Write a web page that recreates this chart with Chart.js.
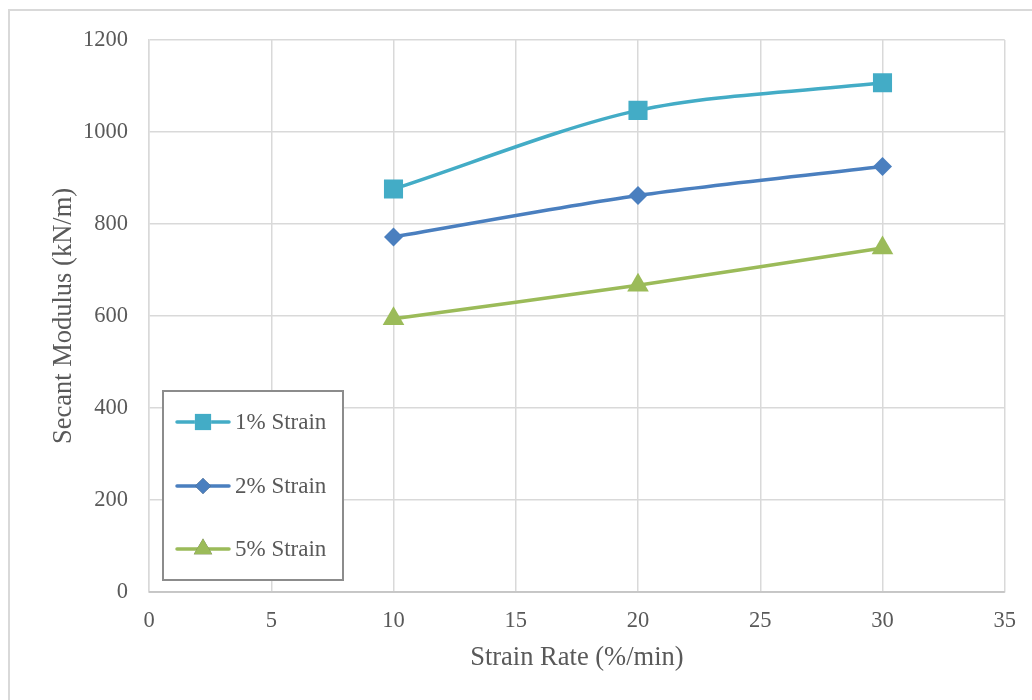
<!DOCTYPE html>
<html>
<head>
<meta charset="utf-8">
<script src="https://cdn.jsdelivr.net/npm/chart.js@4.4.1/dist/chart.umd.min.js"></script>
<style>
  html, body { margin: 0; padding: 0; background: #ffffff; }
  #wrap { width: 1032px; height: 700px; position: relative; }
</style>
</head>
<body>
<div id="wrap"><canvas id="chart" width="1032" height="700"></canvas></div>
<script>
// Strain rate (%/min) on the x axis
const strainRates = [10, 20, 30];
// Secant modulus (kN/m) at each strain level
const strain1 = [876, 1047, 1107];
const strain2 = [772, 862, 925];
const strain5 = [594, 667, 748];
const seriesNames = ['1% Strain', '2% Strain', '5% Strain'];
const xTicks = [0, 5, 10, 15, 20, 25, 30, 35];
const yTicks = [0, 200, 400, 600, 800, 1000, 1200];

const FONT = "'Liberation Serif', 'Times New Roman', serif";
const TEXT = '#595959';

function toPoints(values) {
  return strainRates.map((x, i) => ({ x: x, y: values[i] }));
}

// Legend box inside the plot, bottom left
const boxLegend = {
  id: 'boxLegend',
  afterDatasetsDraw(chart) {
    const ctx = chart.ctx;
    const bx = 163, by = 391, bw = 180, bh = 189;
    ctx.save();
    ctx.fillStyle = '#ffffff';
    ctx.fillRect(bx, by, bw, bh);
    ctx.strokeStyle = '#8c8c8c';
    ctx.lineWidth = 2;
    ctx.strokeRect(bx, by, bw, bh);
    const rows = [422, 486, 549];
    chart.data.datasets.forEach((ds, i) => {
      const y = rows[i];
      ctx.strokeStyle = ds.borderColor;
      ctx.lineWidth = ds.borderWidth;
      ctx.lineCap = 'round';
      ctx.beginPath();
      ctx.moveTo(177, y);
      ctx.lineTo(229, y);
      ctx.stroke();
      Chart.helpers.drawPoint(ctx, {
        pointStyle: ds.pointStyle,
        radius: ds.pointRadius * 0.85,
        borderWidth: 0
      }, 203, y);
      ctx.fillStyle = ds.pointBackgroundColor;
      ctx.fill();
      ctx.fillStyle = TEXT;
      ctx.font = '23px ' + FONT;
      ctx.textBaseline = 'middle';
      ctx.textAlign = 'left';
      ctx.fillText(ds.label, 235, y + 1);
    });
    ctx.restore();
  }
};

// Outer chart frame and the darker bottom axis line
const frames = {
  id: 'frames',
  beforeDraw(chart) {
    const ctx = chart.ctx;
    ctx.save();
    ctx.fillStyle = '#ffffff';
    ctx.fillRect(0, 0, chart.width, chart.height);
    ctx.strokeStyle = '#d9d9d9';
    ctx.lineWidth = 2;
    ctx.strokeRect(9, 10, 1040, 720);
    ctx.restore();
  },
  afterDatasetsDraw(chart) {
    const a = chart.chartArea;
    const ctx = chart.ctx;
    ctx.save();
    ctx.strokeStyle = '#bfbfbf';
    ctx.lineWidth = 1.5;
    ctx.beginPath();
    ctx.moveTo(a.left, a.bottom);
    ctx.lineTo(a.right, a.bottom);
    ctx.stroke();
    ctx.restore();
  }
};

function makeDataset(label, values, color, style, radius) {
  return {
    label: label,
    data: toPoints(values),
    borderColor: color,
    backgroundColor: color,
    pointBackgroundColor: color,
    pointBorderColor: color,
    pointBorderWidth: 0,
    pointStyle: style,
    pointRadius: radius,
    pointHoverRadius: radius,
    borderWidth: 3.5,
    tension: 0.3,
    fill: false
  };
}

new Chart(document.getElementById('chart'), {
  type: 'line',
  data: {
    datasets: [
      makeDataset(seriesNames[0], strain1, '#43acc6', 'rect', 13.5),
      makeDataset(seriesNames[1], strain2, '#4a7fbf', 'rectRot', 9.5),
      makeDataset(seriesNames[2], strain5, '#9bbb59', 'triangle', 12.5)
    ]
  },
  options: {
    responsive: false,
    animation: false,
    devicePixelRatio: 1,
    layout: { padding: { top: 40, right: 27, left: 0, bottom: 0 } },
    plugins: { legend: { display: false }, tooltip: { enabled: false } },
    scales: {
      x: {
        type: 'linear',
        min: 0,
        max: 35,
        afterBuildTicks(scale) { scale.ticks = xTicks.map(v => ({ value: v })); },
        afterFit(scale) { scale.height = 108; },
        grid: { color: '#d9d9d9', lineWidth: 1.5, drawTicks: false },
        border: { display: true, color: '#d9d9d9', width: 1.5 },
        ticks: {
          color: TEXT, font: { family: FONT, size: 22.5 }, padding: 16, maxRotation: 0,
          callback: v => String(v)
        },
        title: {
          display: true,
          text: 'Strain Rate (%/min)',
          color: TEXT,
          font: { family: FONT, size: 26.5 },
          padding: { top: 0, bottom: 26 }
        }
      },
      y: {
        type: 'linear',
        min: 0,
        max: 1200,
        afterBuildTicks(scale) { scale.ticks = yTicks.map(v => ({ value: v })); },
        afterFit(scale) { scale.width = 149; },
        grid: { color: '#d9d9d9', lineWidth: 1.5, drawTicks: false },
        border: { display: true, color: '#d9d9d9', width: 1.5 },
        ticks: {
          color: TEXT, font: { family: FONT, size: 22.5 }, padding: 21,
          callback: v => String(v)
        },
        title: {
          display: true,
          text: 'Secant Modulus (kN/m)',
          color: TEXT,
          font: { family: FONT, size: 26.5 },
          padding: { top: 48, bottom: 0 }
        }
      }
    }
  },
  plugins: [frames, boxLegend]
});
</script>
</body>
</html>
